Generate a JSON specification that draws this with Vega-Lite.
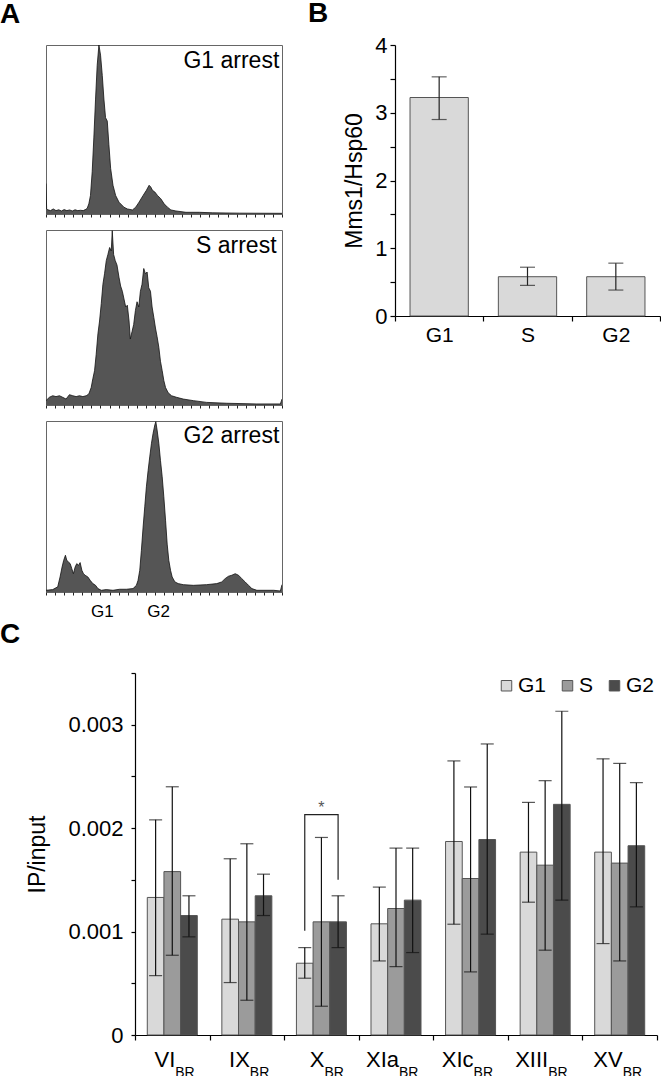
{
  "$schema": "https://vega.github.io/schema/vega-lite/v6.json",
  "padding": 0,
  "background": "white",
  "resolve": {"legend": {"color": "independent"}},
  "config": {
    "font": "Liberation Sans",
    "view": {"stroke": null},
    "axis": {"domainColor": "#000", "tickColor": "#000", "labelColor": "#000", "titleColor": "#000", "grid": false, "labelFont": "Liberation Sans", "titleFont": "Liberation Sans", "titleFontWeight": "normal", "domainWidth": 1.2, "tickWidth": 1.2},
    "title": {"font": "Liberation Sans", "fontWeight": "bold", "fontSize": 28, "anchor": "start", "frame": "group", "color": "#000"},
    "text": {"font": "Liberation Sans", "color": "#000"}
  },
  "datasets": {
    "hist": [
      {"p":"G1","c":0,"v":18},{"p":"G1","c":0.7,"v":3},{"p":"G1","c":2,"v":2.5},{"p":"G1","c":5,"v":2},{"p":"G1","c":8,"v":3},{"p":"G1","c":11,"v":2},{"p":"G1","c":14,"v":2.5},{"p":"G1","c":17,"v":1.8},{"p":"G1","c":20,"v":2.6},{"p":"G1","c":23,"v":2},{"p":"G1","c":26,"v":2.4},{"p":"G1","c":29,"v":1.8},{"p":"G1","c":32,"v":2.5},{"p":"G1","c":35,"v":2},{"p":"G1","c":38,"v":2.2},{"p":"G1","c":41,"v":2},{"p":"G1","c":44,"v":2.8},{"p":"G1","c":45.4,"v":3.4},{"p":"G1","c":47.2,"v":6},{"p":"G1","c":49,"v":11},{"p":"G1","c":50.9,"v":25},{"p":"G1","c":52.7,"v":45},{"p":"G1","c":54.6,"v":68},{"p":"G1","c":56.4,"v":88},{"p":"G1","c":58.3,"v":100},{"p":"G1","c":60.1,"v":94},{"p":"G1","c":62,"v":82},{"p":"G1","c":63.8,"v":68},{"p":"G1","c":65.6,"v":57},{"p":"G1","c":67.5,"v":55},{"p":"G1","c":69.3,"v":41},{"p":"G1","c":71.2,"v":27},{"p":"G1","c":73.8,"v":17},{"p":"G1","c":76.7,"v":11},{"p":"G1","c":80.4,"v":7},{"p":"G1","c":85.9,"v":4},{"p":"G1","c":89.6,"v":3},{"p":"G1","c":95.2,"v":2.4},{"p":"G1","c":98.8,"v":4},{"p":"G1","c":102.5,"v":7},{"p":"G1","c":107,"v":11},{"p":"G1","c":110.6,"v":14},{"p":"G1","c":113.6,"v":17},{"p":"G1","c":115.4,"v":16},{"p":"G1","c":117.3,"v":14},{"p":"G1","c":119.9,"v":13},{"p":"G1","c":122.8,"v":11},{"p":"G1","c":126.5,"v":9},{"p":"G1","c":130.2,"v":6},{"p":"G1","c":133.9,"v":4},{"p":"G1","c":137.6,"v":2.4},{"p":"G1","c":143.1,"v":1.8},{"p":"G1","c":154.2,"v":1},{"p":"G1","c":168.9,"v":1},{"p":"G1","c":183.7,"v":0.7},{"p":"G1","c":213,"v":0.5},{"p":"G1","c":260,"v":0.4},
      {"p":"S","c":0,"v":2.5},{"p":"S","c":3.7,"v":4.4},{"p":"S","c":7.4,"v":5.3},{"p":"S","c":11,"v":4.8},{"p":"S","c":14.8,"v":5.3},{"p":"S","c":18.4,"v":4.4},{"p":"S","c":22.1,"v":3.4},{"p":"S","c":25.8,"v":5.9},{"p":"S","c":29.5,"v":5.3},{"p":"S","c":33.2,"v":4.8},{"p":"S","c":36.9,"v":5.3},{"p":"S","c":40.6,"v":4.8},{"p":"S","c":44.3,"v":5.3},{"p":"S","c":47.2,"v":6.3},{"p":"S","c":49.8,"v":10},{"p":"S","c":51.6,"v":15},{"p":"S","c":53.5,"v":19.6},{"p":"S","c":55.3,"v":29},{"p":"S","c":57.2,"v":40.6},{"p":"S","c":59,"v":48},{"p":"S","c":60.9,"v":58},{"p":"S","c":62.7,"v":69},{"p":"S","c":64.5,"v":75},{"p":"S","c":66.4,"v":82.5},{"p":"S","c":68.2,"v":86},{"p":"S","c":70.1,"v":90},{"p":"S","c":71.9,"v":88},{"p":"S","c":73,"v":99.6},{"p":"S","c":74.5,"v":86},{"p":"S","c":76.3,"v":82.5},{"p":"S","c":78.2,"v":80},{"p":"S","c":80.4,"v":73},{"p":"S","c":82.2,"v":68},{"p":"S","c":84.1,"v":65},{"p":"S","c":85.9,"v":60.6},{"p":"S","c":87.8,"v":56},{"p":"S","c":89.6,"v":57},{"p":"S","c":91.5,"v":48},{"p":"S","c":92.9,"v":37.7},{"p":"S","c":94.8,"v":42},{"p":"S","c":96.6,"v":46},{"p":"S","c":98.5,"v":54},{"p":"S","c":100.3,"v":59},{"p":"S","c":102.2,"v":56},{"p":"S","c":104,"v":65},{"p":"S","c":105.8,"v":69},{"p":"S","c":107.7,"v":78},{"p":"S","c":109.5,"v":75},{"p":"S","c":111.4,"v":76},{"p":"S","c":113.2,"v":67},{"p":"S","c":115.1,"v":65},{"p":"S","c":116.9,"v":56},{"p":"S","c":118.8,"v":50},{"p":"S","c":120.6,"v":44},{"p":"S","c":122.4,"v":39},{"p":"S","c":124.3,"v":33},{"p":"S","c":126.1,"v":25},{"p":"S","c":128,"v":19.6},{"p":"S","c":129.8,"v":14},{"p":"S","c":131.7,"v":10},{"p":"S","c":134.6,"v":7},{"p":"S","c":138.3,"v":5.3},{"p":"S","c":143.8,"v":4.4},{"p":"S","c":151.2,"v":3.4},{"p":"S","c":162.3,"v":2.5},{"p":"S","c":177,"v":1.5},{"p":"S","c":199.2,"v":1},{"p":"S","c":232.3,"v":0.6},{"p":"S","c":258.2,"v":0.6},{"p":"S","c":260,"v":3.4},
      {"p":"G2","c":0,"v":1},{"p":"G2","c":7.4,"v":1.4},{"p":"G2","c":12.9,"v":3},{"p":"G2","c":15.5,"v":8.8},{"p":"G2","c":17.7,"v":14.6},{"p":"G2","c":19.5,"v":18.5},{"p":"G2","c":21.4,"v":21.5},{"p":"G2","c":22.9,"v":18.5},{"p":"G2","c":24.7,"v":17.6},{"p":"G2","c":26.6,"v":16.6},{"p":"G2","c":28.4,"v":13.7},{"p":"G2","c":30.2,"v":10.7},{"p":"G2","c":32.1,"v":14.6},{"p":"G2","c":33.9,"v":16.6},{"p":"G2","c":35.8,"v":15.6},{"p":"G2","c":37.6,"v":17.2},{"p":"G2","c":39.5,"v":12.7},{"p":"G2","c":41.3,"v":10.7},{"p":"G2","c":43.1,"v":9.8},{"p":"G2","c":46.1,"v":8.8},{"p":"G2","c":48.7,"v":6.8},{"p":"G2","c":51.6,"v":4.9},{"p":"G2","c":54.6,"v":3.9},{"p":"G2","c":57.2,"v":2},{"p":"G2","c":60.9,"v":1},{"p":"G2","c":66.4,"v":1.4},{"p":"G2","c":73.8,"v":1},{"p":"G2","c":81.1,"v":1.6},{"p":"G2","c":88.5,"v":1.6},{"p":"G2","c":95.9,"v":2},{"p":"G2","c":99.6,"v":3.9},{"p":"G2","c":101.4,"v":6.8},{"p":"G2","c":103.3,"v":12.7},{"p":"G2","c":105.1,"v":24.4},{"p":"G2","c":107,"v":38},{"p":"G2","c":108.8,"v":49.8},{"p":"G2","c":110.6,"v":61.5},{"p":"G2","c":112.5,"v":71},{"p":"G2","c":114.3,"v":79},{"p":"G2","c":116.2,"v":87},{"p":"G2","c":118,"v":92.8},{"p":"G2","c":119.9,"v":97.7},{"p":"G2","c":121,"v":99.6},{"p":"G2","c":122.4,"v":94.7},{"p":"G2","c":124.3,"v":87},{"p":"G2","c":126.1,"v":77},{"p":"G2","c":128,"v":67.4},{"p":"G2","c":129.8,"v":55.7},{"p":"G2","c":131.7,"v":42},{"p":"G2","c":133.5,"v":28},{"p":"G2","c":135.3,"v":18.5},{"p":"G2","c":137.2,"v":12.7},{"p":"G2","c":139,"v":8.8},{"p":"G2","c":142,"v":5.9},{"p":"G2","c":145.7,"v":4.9},{"p":"G2","c":151.2,"v":4.3},{"p":"G2","c":162.3,"v":3.9},{"p":"G2","c":177,"v":4.3},{"p":"G2","c":188.1,"v":4.9},{"p":"G2","c":193.6,"v":5.9},{"p":"G2","c":197.3,"v":7.8},{"p":"G2","c":201,"v":9.2},{"p":"G2","c":204.7,"v":9.8},{"p":"G2","c":208.4,"v":10.7},{"p":"G2","c":212.1,"v":9.8},{"p":"G2","c":215.7,"v":7.8},{"p":"G2","c":219.4,"v":5.9},{"p":"G2","c":223.1,"v":3.9},{"p":"G2","c":226.8,"v":2},{"p":"G2","c":232.3,"v":1},{"p":"G2","c":250.8,"v":1},{"p":"G2","c":258.2,"v":0.6},{"p":"G2","c":260,"v":4.3}
    ],
    "glab": [{"c":62,"t":"G1"},{"c":124,"t":"G2"}],
    "mms": [
      {"phase":"G1","mean":3.225,"lo":2.9,"hi":3.53},
      {"phase":"S","mean":0.58,"lo":0.452,"hi":0.72},
      {"phase":"G2","mean":0.58,"lo":0.383,"hi":0.78}
    ],
    "ip": [
      {"locus":"VI","phase":"G1","mean":0.00133,"lo":0.000574,"hi":0.00208},
      {"locus":"VI","phase":"S","mean":0.00158,"lo":0.000771,"hi":0.0024},
      {"locus":"VI","phase":"G2","mean":0.001155,"lo":0.000949,"hi":0.001346},
      {"locus":"IX","phase":"G1","mean":0.00112,"lo":0.000507,"hi":0.001704},
      {"locus":"IX","phase":"S","mean":0.001094,"lo":0.000336,"hi":0.001849},
      {"locus":"IX","phase":"G2","mean":0.001346,"lo":0.001155,"hi":0.001555},
      {"locus":"X","phase":"G1","mean":0.000694,"lo":0.000549,"hi":0.000845},
      {"locus":"X","phase":"S","mean":0.001094,"lo":0.000278,"hi":0.00191},
      {"locus":"X","phase":"G2","mean":0.001094,"lo":0.000845,"hi":0.001346},
      {"locus":"XIa","phase":"G1","mean":0.001075,"lo":0.000716,"hi":0.00143},
      {"locus":"XIa","phase":"S","mean":0.001223,"lo":0.000661,"hi":0.001807},
      {"locus":"XIa","phase":"G2","mean":0.001304,"lo":0.000797,"hi":0.001807},
      {"locus":"XIc","phase":"G1","mean":0.001871,"lo":0.001071,"hi":0.00265},
      {"locus":"XIc","phase":"S","mean":0.001513,"lo":0.00061,"hi":0.002398},
      {"locus":"XIc","phase":"G2","mean":0.00189,"lo":0.000975,"hi":0.002814},
      {"locus":"XIII","phase":"G1","mean":0.001768,"lo":0.001284,"hi":0.002249},
      {"locus":"XIII","phase":"S","mean":0.001642,"lo":0.00082,"hi":0.002459},
      {"locus":"XIII","phase":"G2","mean":0.00223,"lo":0.001304,"hi":0.00313},
      {"locus":"XV","phase":"G1","mean":0.001768,"lo":0.000884,"hi":0.00267},
      {"locus":"XV","phase":"S","mean":0.001662,"lo":0.000716,"hi":0.002626},
      {"locus":"XV","phase":"G2","mean":0.00183,"lo":0.001239,"hi":0.00244}
    ],
    "bracket": [
      {"locus":"X","phase":"G1","v":0.001007,"ord":1},
      {"locus":"X","phase":"G1","v":0.00213,"ord":2},
      {"locus":"X","phase":"G2","v":0.00213,"ord":3},
      {"locus":"X","phase":"G2","v":0.0015,"ord":4}
    ],
    "loci": [
      {"locus":"VI"},{"locus":"IX"},{"locus":"X"},{"locus":"XIa"},{"locus":"XIc"},{"locus":"XIII"},{"locus":"XV"}
    ],
    "star": [{"locus":"X","v":0.00219,"label":"*"}],
    "one": [{"k":1}]
  },
  "vconcat": [
    {
      "hconcat": [
        {
          "title": {"text": "A", "dx": -46, "offset": 16},
          "spacing": 11,
          "vconcat": [
            {
              "width": 236, "height": 169,
              "view": {"stroke": "#666", "strokeWidth": 1},
              "layer": [
                {
                  "data": {"name": "hist"},
                  "transform": [{"filter": "datum.p == 'G1'"}],
                  "mark": {"type": "area", "color": "#555", "fillOpacity": 1, "clip": true, "line": {"color": "#111", "strokeWidth": 0.8}},
                  "encoding": {
                    "x": {"field": "c", "type": "quantitative", "scale": {"domain": [0, 260], "nice": false, "zero": false}, "axis": {"values": [0,10,20,30,40,50,60,70,80,90,100,110,120,130,140,150,160,170,180,190,200,210,220,230,240,250,260], "tickCount": 100, "labels": false, "domain": false, "tickSize": 3, "tickWidth": 1, "tickColor": "#222", "title": null}},
                    "y": {"field": "v", "type": "quantitative", "scale": {"domain": [0, 100]}, "axis": null}
                  }
                },
                {
                  "data": {"name": "one"},
                  "mark": {"type": "text", "align": "right", "baseline": "alphabetic", "fontSize": 23},
                  "encoding": {"x": {"datum": 257}, "y": {"datum": 86.4}, "text": {"value": "G1 arrest"}}
                }
              ]
            },
            {
              "width": 236, "height": 175,
              "view": {"stroke": "#666", "strokeWidth": 1},
              "layer": [
                {
                  "data": {"name": "hist"},
                  "transform": [{"filter": "datum.p == 'S'"}],
                  "mark": {"type": "area", "color": "#555", "fillOpacity": 1, "clip": true, "line": {"color": "#111", "strokeWidth": 0.8}},
                  "encoding": {
                    "x": {"field": "c", "type": "quantitative", "scale": {"domain": [0, 260], "nice": false, "zero": false}, "axis": {"values": [0,10,20,30,40,50,60,70,80,90,100,110,120,130,140,150,160,170,180,190,200,210,220,230,240,250,260], "tickCount": 100, "labels": false, "domain": false, "tickSize": 3, "tickWidth": 1, "tickColor": "#222", "title": null}},
                    "y": {"field": "v", "type": "quantitative", "scale": {"domain": [0, 100]}, "axis": null}
                  }
                },
                {
                  "data": {"name": "one"},
                  "mark": {"type": "text", "align": "right", "baseline": "alphabetic", "fontSize": 23},
                  "encoding": {"x": {"datum": 254}, "y": {"datum": 86.7}, "text": {"value": "S arrest"}}
                }
              ]
            },
            {
              "width": 236, "height": 171,
              "view": {"stroke": "#666", "strokeWidth": 1},
              "layer": [
                {
                  "data": {"name": "hist"},
                  "transform": [{"filter": "datum.p == 'G2'"}],
                  "mark": {"type": "area", "color": "#555", "fillOpacity": 1, "clip": true, "line": {"color": "#111", "strokeWidth": 0.8}},
                  "encoding": {
                    "x": {"field": "c", "type": "quantitative", "scale": {"domain": [0, 260], "nice": false, "zero": false}, "axis": {"values": [0,10,20,30,40,50,60,70,80,90,100,110,120,130,140,150,160,170,180,190,200,210,220,230,240,250,260], "tickCount": 100, "labels": false, "domain": false, "tickSize": 3, "tickWidth": 1, "tickColor": "#222", "title": null}},
                    "y": {"field": "v", "type": "quantitative", "scale": {"domain": [0, 100]}, "axis": null}
                  }
                },
                {
                  "data": {"name": "one"},
                  "mark": {"type": "text", "align": "right", "baseline": "alphabetic", "fontSize": 23},
                  "encoding": {"x": {"datum": 257}, "y": {"datum": 87.3}, "text": {"value": "G2 arrest"}}
                },
                {
                  "data": {"name": "glab"},
                  "mark": {"type": "text", "align": "center", "baseline": "alphabetic", "fontSize": 17},
                  "encoding": {"x": {"field": "c", "type": "quantitative"}, "y": {"datum": -14.6}, "text": {"field": "t"}}
                }
              ]
            }
          ]
        },
        {
          "title": {"text": "B", "dx": -87, "offset": 6},
          "width": 265, "height": 271,
          "data": {"name": "mms"},
          "layer": [
            {
              "mark": {"type": "bar", "width": {"band": 0.66}, "fill": "#d9d9d9", "stroke": "#555", "strokeWidth": 1},
              "encoding": {
                "x": {"field": "phase", "type": "nominal", "sort": ["G1", "S", "G2"], "scale": {"paddingInner": 0, "paddingOuter": 0}, "axis": {"title": null, "labelAngle": 0, "labelFontSize": 21, "tickBand": "extent", "tickSize": 5, "labelPadding": 3}},
                "y": {"field": "mean", "type": "quantitative", "scale": {"domain": [0, 4], "nice": false}, "axis": {"values": [0,0.5,1,1.5,2,2.5,3,3.5,4], "tickCount": 100, "labelExpr": "datum.value % 1 === 0 ? format(datum.value, 'd') : ''", "labelFontSize": 22, "tickSize": 5, "labelPadding": 3, "title": "Mms1/Hsp60", "titleFontSize": 23, "titlePadding": 8}}
              }
            },
            {
              "mark": {"type": "rule", "color": "#222", "strokeWidth": 1.2},
              "encoding": {
                "x": {"field": "phase", "type": "nominal", "sort": ["G1", "S", "G2"]},
                "y": {"field": "lo", "type": "quantitative"},
                "y2": {"field": "hi"}
              }
            },
            {
              "mark": {"type": "tick", "color": "#222", "thickness": 1.2, "size": 15},
              "encoding": {
                "x": {"field": "phase", "type": "nominal", "sort": ["G1", "S", "G2"]},
                "y": {"field": "lo", "type": "quantitative"}
              }
            },
            {
              "mark": {"type": "tick", "color": "#222", "thickness": 1.2, "size": 15},
              "encoding": {
                "x": {"field": "phase", "type": "nominal", "sort": ["G1", "S", "G2"]},
                "y": {"field": "hi", "type": "quantitative"}
              }
            }
          ]
        }
      ],
      "spacing": 25
    },
    {
      "title": {"text": "C", "dx": -46, "offset": 23},
      "width": 611, "height": 362,
      "layer": [
        {
          "data": {"name": "ip"},
          "mark": {"type": "bar", "stroke": "#555", "strokeWidth": 1},
          "encoding": {
            "x": {"field": "locus", "type": "nominal", "sort": ["VI", "IX", "X", "XIa", "XIc", "XIII", "XV"], "scale": {"range": [89, 611], "paddingInner": 0, "paddingOuter": 0}, "axis": {"title": null, "labels": false, "tickBand": "extent", "tickSize": 5}},
            "xOffset": {"field": "phase", "type": "nominal", "sort": ["G1", "S", "G2"], "scale": {"paddingInner": 0, "paddingOuter": 0.737}},
            "y": {"field": "mean", "type": "quantitative", "scale": {"domain": [0, 0.0035], "nice": false}, "axis": {"offset": -89, "values": [0,0.0005,0.001,0.0015,0.002,0.0025,0.003,0.0035], "tickCount": 100, "labelExpr": "datum.value == 0 ? '0' : (round(datum.value*2000) % 2 == 0 ? format(datum.value, '.3f') : '')", "labelFontSize": 22, "tickSize": 4, "labelPadding": 8, "title": "IP/input", "titleFontSize": 23, "titlePadding": 18}},
            "color": {"field": "phase", "type": "nominal", "sort": ["G1", "S", "G2"], "scale": {"domain": ["G1", "S", "G2"], "range": ["#d9d9d9", "#9b9b9b", "#4b4b4b"]}, "legend": {"title": null, "orient": "top-right", "direction": "horizontal", "symbolType": "square", "symbolSize": 110, "symbolStrokeColor": "#555", "symbolStrokeWidth": 1, "labelFontSize": 21, "labelOffset": 1, "columnPadding": 10, "offset": 2}}
          }
        },
        {
          "data": {"name": "ip"},
          "mark": {"type": "rule", "color": "#111", "strokeWidth": 1.2},
          "encoding": {
            "x": {"field": "locus", "type": "nominal", "sort": ["VI", "IX", "X", "XIa", "XIc", "XIII", "XV"]},
            "xOffset": {"field": "phase", "type": "nominal", "sort": ["G1", "S", "G2"]},
            "y": {"field": "lo", "type": "quantitative"},
            "y2": {"field": "hi"}
          }
        },
        {
          "data": {"name": "ip"},
          "mark": {"type": "tick", "color": "#111", "thickness": 1.2, "size": 13},
          "encoding": {
            "x": {"field": "locus", "type": "nominal", "sort": ["VI", "IX", "X", "XIa", "XIc", "XIII", "XV"]},
            "xOffset": {"field": "phase", "type": "nominal", "sort": ["G1", "S", "G2"]},
            "y": {"field": "lo", "type": "quantitative"}
          }
        },
        {
          "data": {"name": "ip"},
          "mark": {"type": "tick", "color": "#111", "thickness": 1.2, "size": 13},
          "encoding": {
            "x": {"field": "locus", "type": "nominal", "sort": ["VI", "IX", "X", "XIa", "XIc", "XIII", "XV"]},
            "xOffset": {"field": "phase", "type": "nominal", "sort": ["G1", "S", "G2"]},
            "y": {"field": "hi", "type": "quantitative"}
          }
        },
        {
          "data": {"name": "bracket"},
          "mark": {"type": "line", "color": "#222", "strokeWidth": 1.2},
          "encoding": {
            "x": {"field": "locus", "type": "nominal", "sort": ["VI", "IX", "X", "XIa", "XIc", "XIII", "XV"]},
            "xOffset": {"field": "phase", "type": "nominal", "sort": ["G1", "S", "G2"]},
            "y": {"field": "v", "type": "quantitative"},
            "order": {"field": "ord", "type": "quantitative"}
          }
        },
        {
          "data": {"name": "star"},
          "mark": {"type": "text", "fontSize": 16, "color": "#555", "baseline": "middle"},
          "encoding": {
            "x": {"field": "locus", "type": "nominal", "sort": ["VI", "IX", "X", "XIa", "XIc", "XIII", "XV"]},
            "y": {"field": "v", "type": "quantitative"},
            "text": {"field": "label"}
          }
        },
        {
          "data": {"name": "loci"},
          "mark": {"type": "text", "align": "right", "baseline": "alphabetic", "fontSize": 22, "dx": 3},
          "encoding": {
            "x": {"field": "locus", "type": "nominal", "sort": ["VI", "IX", "X", "XIa", "XIc", "XIII", "XV"]},
            "y": {"datum": -0.000307},
            "text": {"field": "locus"}
          }
        },
        {
          "data": {"name": "loci"},
          "mark": {"type": "text", "align": "left", "baseline": "alphabetic", "fontSize": 14, "dx": 3},
          "encoding": {
            "x": {"field": "locus", "type": "nominal", "sort": ["VI", "IX", "X", "XIa", "XIc", "XIII", "XV"]},
            "y": {"datum": -0.000406},
            "text": {"value": "BR"}
          }
        }
      ]
    }
  ],
  "spacing": 0
}
